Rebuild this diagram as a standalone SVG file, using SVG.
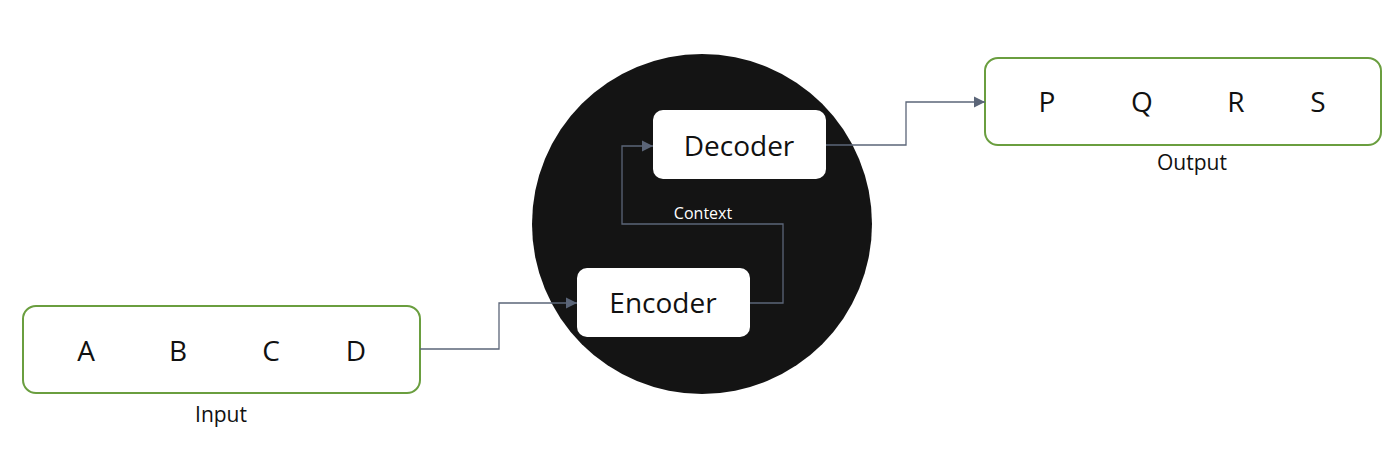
<svg xmlns="http://www.w3.org/2000/svg" width="1400" height="451" viewBox="0 0 1400 451">
<style>
.grp{fill:#ffffff;stroke:#6a9e3f;stroke-width:2}
.big{font-family:"Open Sans","Liberation Sans",sans-serif;font-size:28px;fill:#111111;text-anchor:middle}
.lab{font-family:"Open Sans","Liberation Sans",sans-serif;font-size:21px;fill:#111111;text-anchor:middle}
.box{fill:#ffffff;stroke:none}
.ctx{font-family:"Open Sans","Liberation Sans",sans-serif;font-size:16px;fill:#ffffff;text-anchor:middle}
.conn{fill:none;stroke:#5b6578;stroke-width:1.3}
</style>
<defs>
<marker id="arr" markerUnits="userSpaceOnUse" markerWidth="12" markerHeight="13" refX="11" refY="6.5" orient="auto">
<path d="M0,1 L11,6.5 L0,12 Z" fill="#5b6578"/>
</marker>
</defs>
<rect width="1400" height="451" fill="#ffffff"/>
<g id="model">
<circle cx="702" cy="224" r="170" fill="#141414"/>
</g>
<g id="input">
<rect class="grp" x="23" y="306" width="397" height="87" rx="13"/>
<text class="big" x="86" y="361">A</text>
<text class="big" x="178" y="361">B</text>
<text class="big" x="271" y="361">C</text>
<text class="big" x="356" y="361">D</text>
<text class="lab" x="221" y="422">Input</text>
</g>
<g id="output">
<rect class="grp" x="985" y="58" width="396" height="87" rx="13"/>
<text class="big" x="1047" y="112">P</text>
<text class="big" x="1142" y="112">Q</text>
<text class="big" x="1236" y="112">R</text>
<text class="big" x="1318" y="112">S</text>
<text class="lab" x="1192" y="170">Output</text>
</g>
<g id="encoder">
<rect class="box" x="577" y="268" width="173" height="69" rx="10"/>
<text class="big" x="663" y="313">Encoder</text>
</g>
<g id="decoder">
<rect class="box" x="653" y="110" width="173" height="69" rx="10"/>
<text class="big" x="739" y="156">Decoder</text>
</g>
<g id="connectors">
<path class="conn" d="M420,349 H499 V303 H577" marker-end="url(#arr)"/>
<path class="conn" d="M750,303 H783 V224 H622 V146 H653" marker-end="url(#arr)"/>
<path class="conn" d="M826,145 H906 V102 H985" marker-end="url(#arr)"/>
<text class="ctx" x="703" y="219">Context</text>
</g>
</svg>
